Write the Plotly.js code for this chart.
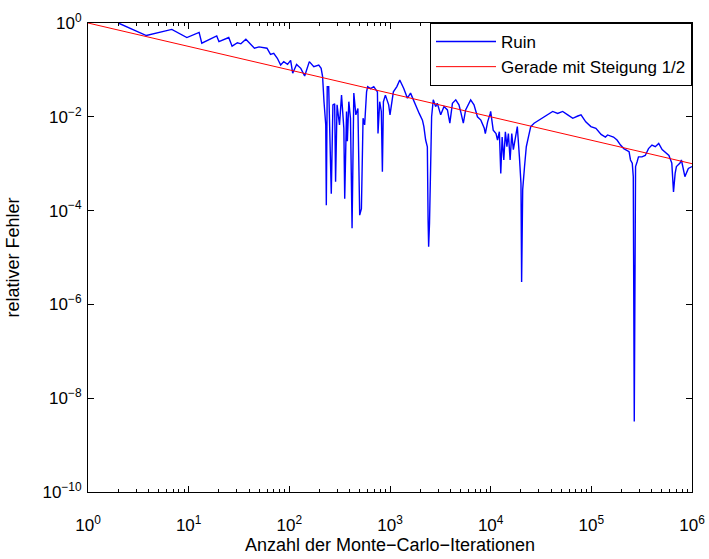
<!DOCTYPE html>
<html>
<head>
<meta charset="utf-8">
<script src="https://cdn.plot.ly/plotly-3.0.1.min.js"></script>
<style>html,body{margin:0;padding:0;background:#fff;}#chart{width:709px;height:559px;}</style>
</head>
<body>
<div id="chart"></div>
<script>
// Ruin series: number of Monte-Carlo iterations vs. relative error
const ruinX = [2, 3.8, 6.8, 9.6, 12.7, 13.5, 19, 20, 25, 27, 30.5, 33, 37, 45, 50, 56, 60, 65, 70, 76, 82, 88, 96, 103, 108, 118, 130, 142, 158, 175, 196, 207, 214, 221, 230, 233, 238, 246, 252, 261, 271, 282, 288, 298, 315, 330, 348, 355, 370, 377, 390, 405, 420, 437, 458, 480, 500, 520, 540, 560, 585, 600, 640, 690, 750, 760, 790, 820, 840, 860, 900, 970, 1000, 1080, 1170, 1250, 1370, 1490, 1600, 1730, 1800, 1950, 2100, 2170, 2260, 2350, 2390, 2420, 2470, 2530, 2590, 2690, 2840, 2950, 3190, 3440, 3720, 3930, 4170, 4500, 4840, 5030, 5350, 5640, 6090, 6330, 6830, 7390, 7990, 8640, 8850, 9330, 9900, 10000, 10600, 11300, 11700, 12200, 12600, 13000, 13500, 14000, 14500, 15000, 15600, 16200, 16800, 17900, 18400, 19300, 20000, 20300, 20800, 21700, 22600, 23700, 25000, 27000, 30300, 34000, 36800, 41300, 46300, 51900, 58300, 65400, 73400, 79000, 88000, 99000, 111000, 125000, 138000, 145000, 166000, 180000, 195000, 210000, 237000, 245000, 255000, 261000, 267000, 275000, 285000, 294000, 318000, 343000, 370000, 400000, 432000, 467000, 505000, 590000, 630000, 655000, 680000, 700000, 760000, 785000, 850000, 920000, 1000000];
const ruinY = [1.0, 0.54, 0.73, 0.49, 0.63, 0.37, 0.53, 0.40, 0.49, 0.32, 0.38, 0.36, 0.45, 0.29, 0.31, 0.30, 0.29, 0.215, 0.226, 0.177, 0.127, 0.15, 0.131, 0.16, 0.085, 0.131, 0.108, 0.074, 0.15, 0.117, 0.127, 0.108, 0.072, 0.021, 0.0067, 1.3e-4, 0.044, 0.044, 0.0067, 2.3e-4, 0.018, 0.019, 4.1e-4, 0.018, 0.0067, 0.029, 0.0057, 1.8e-4, 0.013, 0.003, 0.021, 0.0093, 4.2e-5, 0.032, 0.011, 0.015, 8e-5, 1.1e-4, 0.0093, 0.0067, 0.034, 0.044, 0.04, 0.044, 0.034, 0.0044, 0.021, 0.013, 6.7e-4, 0.021, 0.029, 0.018, 0.011, 0.034, 0.044, 0.061, 0.04, 0.025, 0.032, 0.021, 0.0165, 0.0118, 0.0085, 0.0062, 0.0032, 0.0023, 6.3e-5, 1.7e-5, 5.5e-5, 0.0027, 0.01, 0.023, 0.0165, 0.0194, 0.011, 0.0165, 0.014, 0.0073, 0.0194, 0.023, 0.018, 0.013, 0.0073, 0.014, 0.0194, 0.023, 0.018, 0.01, 0.0085, 0.0057, 0.0044, 0.0078, 0.0118, 0.013, 0.0052, 0.0044, 0.0032, 0.0048, 6.2e-4, 0.0037, 0.0012, 0.0048, 0.0023, 0.0044, 0.0012, 0.0044, 0.002, 0.0052, 0.0062, 0.0014, 3.8e-4, 3e-6, 2.8e-4, 8.7e-4, 0.0023, 0.0037, 0.0062, 0.0073, 0.0085, 0.01, 0.011, 0.013, 0.0118, 0.013, 0.011, 0.0093, 0.0104, 0.011, 0.0078, 0.0062, 0.0057, 0.0042, 0.0037, 0.0041, 0.0037, 0.0032, 0.0025, 0.0021, 0.0018, 0.0012, 0.00103, 5.3e-4, 3.2e-9, 8.7e-4, 0.0011, 0.0014, 0.0014, 0.0015, 0.0021, 0.0025, 0.0023, 0.0027, 0.002, 0.0015, 0.00103, 2.5e-4, 6.2e-4, 8.7e-4, 0.00103, 0.0012, 5.3e-4, 7.9e-4, 8.7e-4];

// Reference line with slope 1/2
const lineX = [1, 1e6];
const lineY = [1, 1e-3];

// Tick labels
const xTickVals = [1, 10, 100, 1000, 10000, 100000, 1000000];
const xTickText = ['10<sup>0</sup>', '10<sup>1</sup>', '10<sup>2</sup>', '10<sup>3</sup>', '10<sup>4</sup>', '10<sup>5</sup>', '10<sup>6</sup>'];
const yTickVals = [1e-10, 1e-8, 1e-6, 1e-4, 1e-2, 1];
const yTickText = ['10<sup>\u221210</sup>', '10<sup>\u22128</sup>', '10<sup>\u22126</sup>', '10<sup>\u22124</sup>', '10<sup>\u22122</sup>', '10<sup>0</sup>'];

const minorX = [];
for (let d = 1; d < 1e6; d *= 10) { for (let k = 2; k <= 9; k++) minorX.push(k * d); }

const font = 'Liberation Sans, Arial, Helvetica, sans-serif';

const traces = [
  {x: ruinX, y: ruinY, type: 'scatter', mode: 'lines', name: 'Ruin',
   line: {color: '#0000ff', width: 1.4}},
  {x: lineX, y: lineY, type: 'scatter', mode: 'lines', name: 'Gerade mit Steigung 1/2',
   line: {color: '#ff0000', width: 1}}
];

const layout = {
  width: 709, height: 559,
  margin: {l: 88, r: 17, t: 23, b: 67},
  paper_bgcolor: '#fff', plot_bgcolor: '#fff',
  font: {family: font, size: 17, color: '#000'},
  showlegend: true,
  legend: {x: 1, y: 1, xanchor: 'right', yanchor: 'top', bgcolor: '#fff', itemwidth: 60,
           bordercolor: '#000', borderwidth: 1, font: {family: font, size: 17, color: '#000'}},
  xaxis: {type: 'log', range: [0, 6], showgrid: false, zeroline: false,
          showline: true, linecolor: '#000', linewidth: 1, mirror: 'allticks',
          ticks: 'inside', ticklen: 6, tickcolor: '#000',
          tickmode: 'array', tickvals: xTickVals, ticktext: xTickText,
          tickfont: {family: font, size: 17, color: '#000'}, ticklabelstandoff: 18,
          minor: {ticks: 'inside', ticklen: 3, tickcolor: '#000', tickmode: 'array', tickvals: minorX, showgrid: false},
          title: {text: 'Anzahl der Monte\u2212Carlo\u2212Iterationen', font: {family: font, size: 18, color: '#000'}, standoff: 3}},
  yaxis: {type: 'log', range: [-10, 0], showgrid: false, zeroline: false,
          showline: true, linecolor: '#000', linewidth: 1, mirror: 'allticks',
          ticks: 'inside', ticklen: 6, tickcolor: '#000',
          tickmode: 'array', tickvals: yTickVals, ticktext: yTickText,
          tickfont: {family: font, size: 17, color: '#000'}, ticklabelstandoff: 2,
          title: {text: 'relativer Fehler', font: {family: font, size: 18, color: '#000'}, standoff: 18}}
};

Plotly.newPlot('chart', traces, layout, {displayModeBar: false, staticPlot: true});
</script>
</body>
</html>
